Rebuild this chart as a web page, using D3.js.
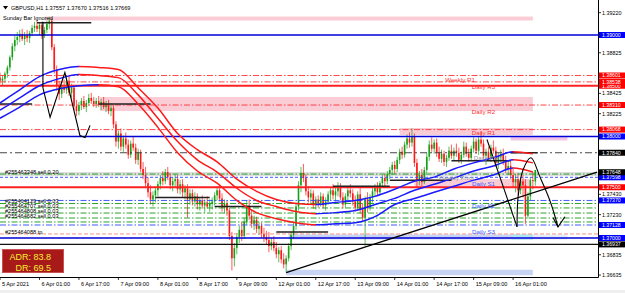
<!DOCTYPE html>
<html>
<head>
<meta charset="utf-8">
<script src="https://cdn.jsdelivr.net/npm/d3@7"></script>
<style>
  body { margin: 0; background: #fff; }
  svg { display: block; }
  text { font-family: "Liberation Sans", Arial, sans-serif; }
</style>
</head>
<body>
<div id="chart"></div>
<script>
// ---- GBPUSD H1, 5 Apr 09:00 .. 16 Apr 10:00 (bar index 0..217) ----
const opens = [
  1.3858,1.3855,1.3857,1.3862,1.3868,1.3878,1.3889,1.3895,1.3898,1.3901,1.3896,1.3900,1.3897,1.3902,1.3907,
  1.3909,1.3906,1.3910,1.3899,1.3905,1.3911,1.3914,1.3888,1.3866,1.3850,1.3842,1.3849,1.3846,1.3855,1.3843,1.3848,1.3830,1.3825,1.3831,1.3835,1.3829,1.3833,1.3838,1.3835,
  1.3832,1.3835,1.3831,1.3834,1.3829,1.3832,1.3825,1.3828,1.3812,1.3795,1.3803,1.3790,1.3798,1.3792,1.3782,1.3793,1.3789,1.3777,1.3784,1.3768,1.3762,1.3754,1.3745,1.3738,
  1.3742,1.3747,1.3753,1.3759,1.3756,1.3765,1.3760,1.3752,1.3756,1.3758,1.3748,1.3753,1.3745,1.3749,1.3738,1.3744,1.3736,1.3741,1.3733,1.3737,1.3732,1.3735,1.3731,1.3734,
  1.3736,1.3742,1.3747,1.3739,1.3730,1.3734,1.3727,1.3702,1.3680,1.3690,1.3701,1.3708,1.3702,1.3716,1.3732,1.3722,1.3714,1.3718,1.3709,1.3712,1.3704,1.3701,1.3698,1.3692,
  1.3696,1.3690,1.3684,1.3688,1.3679,1.3674,1.3680,1.3692,1.3703,1.3712,1.3731,1.3752,1.3764,1.3759,1.3746,1.3740,1.3744,1.3733,1.3738,1.3734,1.3741,1.3732,1.3736,1.3743,
  1.3747,1.3742,1.3746,1.3751,1.3740,1.3733,1.3741,1.3747,1.3744,1.3736,1.3730,1.3743,1.3728,1.3720,1.3738,1.3730,1.3740,1.3746,1.3750,1.3745,1.3754,1.3759,1.3756,1.3763,
  1.3767,1.3772,1.3768,1.3777,1.3785,1.3782,1.3792,1.3798,1.3794,1.3800,1.3774,1.3756,1.3762,1.3755,1.3767,1.3780,1.3792,1.3788,1.3794,1.3784,1.3778,1.3783,1.3775,1.3779,
  1.3786,1.3781,1.3786,1.3784,1.3777,1.3782,1.3790,1.3783,1.3779,1.3788,1.3795,1.3786,1.3797,1.3793,1.3781,1.3785,1.3779,1.3789,1.3786,1.3774,1.3780,1.3783,1.3776,1.3768,
  1.3771,1.3762,1.3755,1.3758,1.3747,1.3756,1.3752,1.3722,1.3741,1.3757,1.37557
];
const highs = [
  1.3863,1.3860,1.3864,1.3870,1.3880,1.3892,1.3899,1.3903,1.3905,1.3906,1.3903,1.3905,1.3904,1.3910,1.3913,
  1.3914,1.3912,1.3913,1.3908,1.3914,1.3918,1.3917,1.3891,1.3870,1.3855,1.3852,1.3856,1.3858,1.3860,1.3852,1.3850,1.3836,1.3834,1.3838,1.3840,1.3836,1.3842,1.3843,1.3839,
  1.3838,1.3840,1.3837,1.3839,1.3835,1.3836,1.3833,1.3831,1.3815,1.3806,1.3808,1.3801,1.3804,1.3797,1.3796,1.3800,1.3793,1.3788,1.3787,1.3775,1.3770,1.3760,1.3752,1.3746,
  1.3750,1.3756,1.3762,1.3766,1.3768,1.3770,1.3764,1.3760,1.3763,1.3762,1.3757,1.3758,1.3752,1.3753,1.3748,1.3748,1.3745,1.3744,1.3740,1.3742,1.3738,1.3741,1.3738,1.3740,
  1.3745,1.3751,1.3752,1.3744,1.3738,1.3737,1.3730,1.3706,1.3695,1.3705,1.3712,1.3716,1.3720,1.3737,1.3738,1.3727,1.3722,1.3721,1.3716,1.3715,1.3710,1.3707,1.3706,1.3700,
  1.3702,1.3696,1.3691,1.3692,1.3685,1.3683,1.3695,1.3706,1.3715,1.3735,1.3756,1.3770,1.3773,1.3763,1.3751,1.3748,1.3747,1.3741,1.3742,1.3745,1.3744,1.3740,1.3746,1.3750,
  1.3753,1.3750,1.3755,1.3754,1.3745,1.3744,1.3750,1.3753,1.3748,1.3742,1.3746,1.3749,1.3734,1.3741,1.3745,1.3743,1.3749,1.3753,1.3755,1.3756,1.3762,1.3763,1.3766,1.3770,
  1.3775,1.3776,1.3780,1.3788,1.3790,1.3795,1.3802,1.3804,1.3808,1.3803,1.3778,1.3766,1.3768,1.3770,1.3784,1.3796,1.3799,1.3797,1.3798,1.3790,1.3787,1.3786,1.3782,1.3790,
  1.3792,1.3789,1.3793,1.3789,1.3785,1.3795,1.3794,1.3788,1.3791,1.3799,1.3798,1.3800,1.3805,1.3797,1.3788,1.3790,1.3792,1.3796,1.3790,1.3784,1.3787,1.3788,1.3781,1.3776,
  1.3776,1.3768,1.3763,1.3764,1.3760,1.3762,1.3758,1.3745,1.3760,1.3765,1.37670
];
const lows = [
  1.3852,1.3850,1.3853,1.3858,1.3865,1.3875,1.3884,1.3890,1.3893,1.3894,1.3890,1.3893,1.3892,1.3899,1.3903,
  1.3903,1.3900,1.3896,1.3897,1.3902,1.3906,1.3885,1.3862,1.3845,1.3836,1.3838,1.3843,1.3842,1.3840,1.3838,1.3826,1.3820,1.3821,1.3826,1.3827,1.3824,1.3830,1.3832,1.3829,
  1.3828,1.3829,1.3826,1.3827,1.3824,1.3822,1.3820,1.3808,1.3790,1.3788,1.3786,1.3785,1.3788,1.3778,1.3779,1.3786,1.3773,1.3772,1.3765,1.3758,1.3750,1.3740,1.3733,1.3731,
  1.3735,1.3741,1.3748,1.3752,1.3753,1.3757,1.3748,1.3746,1.3750,1.3744,1.3743,1.3740,1.3738,1.3720,1.3733,1.3732,1.3731,1.3728,1.3727,1.3729,1.3725,1.3729,1.3726,1.3728,
  1.3732,1.3737,1.3736,1.3726,1.3724,1.3722,1.3698,1.3668,1.3672,1.3684,1.3695,1.3697,1.3699,1.3713,1.3718,1.3710,1.3708,1.3705,1.3703,1.3700,1.3696,1.3694,1.3686,1.3688,
  1.3687,1.3680,1.3676,1.3675,1.3670,1.3666,1.3677,1.3688,1.3699,1.3708,1.3727,1.3745,1.3755,1.3742,1.3735,1.3733,1.3729,1.3728,1.3730,1.3731,1.3729,1.3727,1.3733,1.3737,
  1.3738,1.3736,1.3741,1.3737,1.3729,1.3730,1.3737,1.3740,1.3732,1.3726,1.3727,1.3724,1.3716,1.3692,1.3725,1.3727,1.3735,1.3741,1.3742,1.3743,1.3750,1.3751,1.3753,1.3758,
  1.3762,1.3763,1.3765,1.3773,1.3778,1.3779,1.3788,1.3789,1.3790,1.3770,1.3750,1.3752,1.3751,1.3753,1.3764,1.3776,1.3785,1.3783,1.3780,1.3775,1.3774,1.3771,1.3770,1.3776,
  1.3778,1.3776,1.3780,1.3774,1.3773,1.3779,1.3780,1.3775,1.3776,1.3784,1.3783,1.3782,1.3790,1.3778,1.3772,1.3776,1.3775,1.3783,1.3770,1.3768,1.3775,1.3772,1.3764,1.3762,
  1.3758,1.3750,1.3745,1.3742,1.3743,1.3740,1.3714,1.3719,1.3737,1.3748,1.37516
];
const closes = [
  1.3855,1.3857,1.3862,1.3868,1.3878,1.3889,1.3895,1.3898,1.3901,1.3896,1.3900,1.3897,1.3902,1.3907,1.3909,
  1.3906,1.3910,1.3899,1.3905,1.3911,1.3914,1.3888,1.3866,1.3850,1.3842,1.3849,1.3846,1.3855,1.3843,1.3848,1.3830,1.3825,1.3831,1.3835,1.3829,1.3833,1.3838,1.3835,1.3832,
  1.3835,1.3831,1.3834,1.3829,1.3832,1.3825,1.3828,1.3812,1.3795,1.3803,1.3790,1.3798,1.3792,1.3782,1.3793,1.3789,1.3777,1.3784,1.3768,1.3762,1.3754,1.3745,1.3738,1.3742,
  1.3747,1.3753,1.3759,1.3756,1.3765,1.3760,1.3752,1.3756,1.3758,1.3748,1.3753,1.3745,1.3749,1.3738,1.3744,1.3736,1.3741,1.3733,1.3737,1.3732,1.3735,1.3731,1.3734,1.3736,
  1.3742,1.3747,1.3739,1.3730,1.3734,1.3727,1.3702,1.3680,1.3690,1.3701,1.3708,1.3702,1.3716,1.3732,1.3722,1.3714,1.3718,1.3709,1.3712,1.3704,1.3701,1.3698,1.3692,1.3696,
  1.3690,1.3684,1.3688,1.3679,1.3674,1.3680,1.3692,1.3703,1.3712,1.3731,1.3752,1.3764,1.3759,1.3746,1.3740,1.3744,1.3733,1.3738,1.3734,1.3741,1.3732,1.3736,1.3743,1.3747,
  1.3742,1.3746,1.3751,1.3740,1.3733,1.3741,1.3747,1.3744,1.3736,1.3730,1.3743,1.3728,1.3720,1.3738,1.3730,1.3740,1.3746,1.3750,1.3745,1.3754,1.3759,1.3756,1.3763,1.3767,
  1.3772,1.3768,1.3777,1.3785,1.3782,1.3792,1.3798,1.3794,1.3800,1.3774,1.3756,1.3762,1.3755,1.3767,1.3780,1.3792,1.3788,1.3794,1.3784,1.3778,1.3783,1.3775,1.3779,1.3786,
  1.3781,1.3786,1.3784,1.3777,1.3782,1.3790,1.3783,1.3779,1.3788,1.3795,1.3786,1.3797,1.3793,1.3781,1.3785,1.3779,1.3789,1.3786,1.3774,1.3780,1.3783,1.3776,1.3768,1.3771,
  1.3762,1.3755,1.3758,1.3747,1.3756,1.3752,1.3722,1.3741,1.3757,1.3756,1.37669
];

// moving averages, read every 8 bars (bar 0, 8, 16 ... 216)
const maStep = 8;
const maUpper  = [1.3833,1.3846,1.3859,1.3866,1.3869,1.3868,1.3866,1.3848,1.3828,1.3803,1.3787,1.3775,1.3758,1.3746,1.3738,1.3734,1.3733,1.3735,1.3737,1.3741,1.3748,1.3756,1.3760,1.3768,1.3774,1.3779,1.3785,1.3783];
const maMiddle = [1.3826,1.3838,1.3850,1.3857,1.3861,1.3860,1.3858,1.3841,1.3818,1.3795,1.3777,1.3765,1.3749,1.3737,1.3731,1.3726,1.3724,1.3725,1.3727,1.3733,1.3739,1.3747,1.3753,1.3759,1.3766,1.3771,1.3777,1.3774];
const maLower  = [1.3818,1.3829,1.3841,1.3847,1.3850,1.3851,1.3849,1.3832,1.3809,1.3784,1.3766,1.3754,1.3737,1.3725,1.3719,1.3715,1.3713,1.3714,1.3715,1.3721,1.3733,1.3739,1.3745,1.3751,1.3757,1.3762,1.3769,1.3765];

// time axis
const timeTickBars = [0,16,32,48,64,80,96,112,128,144,160,176,192,208];
const timeTickLabels = ["5 Apr 2021","6 Apr 01:00","6 Apr 17:00","7 Apr 09:00","8 Apr 01:00","8 Apr 17:00","9 Apr 09:00",
  "12 Apr 01:00","12 Apr 17:00","13 Apr 09:00","14 Apr 01:00","14 Apr 17:00","15 Apr 09:00","16 Apr 01:00"];
// price axis (ticks not hidden by the price tags)
const priceTicks = [1.39220,1.38825,1.38425,1.38225,1.37430,1.37230,1.36835,1.36635];

// horizontal levels
const blueSolidLevels = [1.39000, 1.38000, 1.37000];
const redSolidLevels = [1.38500, 1.37500];
const redDashLevels = [1.38601, 1.38538, 1.38310, 1.38068];
const blueDashLevels = [1.37598, 1.37370, 1.37128];
const blackDashLevels = [1.37840];
const blackSolidLevels = [1.36937];
const tpLevels = [1.37040];

// orders
const orderTexts = ["#255463348 sell 0.20","#255464129 sell 0.03","#255464707 sell 0.03","#255464808 sell 0.03","#255464682 sell 0.03",""];
const orderPrices = [1.37630, 1.37340, 1.37296, 1.37246, 1.37197, 1.37158];
const tpText = "#255464088 tp";

// zones [startBar, endBar, top price, bottom price]
const pinkZones = [[18,216,1.39182,1.39143],[40.5,216,1.38389,1.38251],[162,216,1.38084,1.38015],[168,215,1.37581,1.37493]];
const lavenderZones = [[207,230,1.37995,1.37961]];
const greyZones = [[-2,243,1.37650,1.37611]];
const blueZones = [[117,216,1.37035,1.36985],[116,216,1.36687,1.36633]];
const cyanZones = [[207.5,216,1.37035,1.36985]];
const paleZones = [[216,230,1.37035,1.36985]];

// daily segments [startBar, endBar, price]
const daySegments = [[0,13,1.3832],[15,37,1.3912],[40,61,1.3832],[63,85,1.3740],[87,106,1.3731],[112,133,1.3706],
  [135,158,1.3751],[158,183,1.3757],[183,207,1.3776],[207,218,1.3784]];

// pivot labels [text, bar, price]
const redPivotLabels = [["Weekly R1",186.5,1.38557],["Daily R3",196,1.38488],["Daily R2",196,1.38247],["Daily R1",196,1.38034]];
const greyPivotLabels = [["Daily Pivot",198,1.37788],["Weekly Pivot",185,1.37591]];
const bluePivotLabels = [["Daily S1",196,1.37532],["Daily S2",196,1.37315],["Daily S3",196,1.37059]];

// drawings [bar, price]
const trendLine = [[116,1.3666],[242,1.37648]];
const scribbleLeft = [[17.4,1.3913],[17.4,1.3848],[20.3,1.3819],[26.3,1.3863],[32.4,1.3801],[34.5,1.3799],[36.5,1.3811]];
const scribbleDown = [[197.4,1.3797],[209.6,1.3711]];
const scribbleArc = [[209.6,1.3711],[210,1.3740],[212,1.3767],[215.2,1.3779],[218.9,1.3760],[222.9,1.3737],[226.2,1.3711]];
const arrowHead = [[224.2,1.3720],[226.2,1.3711],[229,1.3721]];

const adrValue = "83.8";
const drValue = "69.5";

// ---------------------------------------------------------------
const width = 625, height = 293;
const plotW = 598, plotH = 277;
const bull = '#16a016', bear = '#ff1616';

const svg = d3.select('#chart').append('svg')
  .attr('width', width).attr('height', height);
svg.append('rect').attr('width', width).attr('height', height).attr('fill', '#fff');
svg.append('rect').attr('x', 0).attr('y', 290).attr('width', width).attr('height', 3).attr('fill', '#eeeeee');

const defs = svg.append('defs');
defs.append('clipPath').attr('id', 'plot-clip')
  .append('rect').attr('width', plotW).attr('height', plotH);

const xScale = d3.scaleLinear().domain([0, 242]).range([0, 597]);
const yScale = d3.scaleLinear().domain([1.39, 1.37]).range([35, 238]);

const plot = svg.append('g').attr('clip-path', 'url(#plot-clip)');

// zones
const drawZones = (zones, fill) => {
  plot.append('g').selectAll('rect').data(zones).join('rect')
    .attr('x', d => xScale(d[0]))
    .attr('width', d => xScale(d[1]) - xScale(d[0]))
    .attr('y', d => yScale(d[2]))
    .attr('height', d => yScale(d[3]) - yScale(d[2]))
    .attr('fill', fill);
};
drawZones(greyZones, '#dedede');
drawZones(pinkZones, '#f9ccd6');
drawZones(lavenderZones, '#f2c4ea');
drawZones(blueZones, '#c7d4f3');
drawZones(cyanZones, '#aee6f2');
drawZones(paleZones, '#e4ecfa');

// horizontal levels
const drawLevels = (levels, color, w, dash) => {
  plot.append('g').selectAll('line').data(levels).join('line')
    .attr('x1', 0).attr('x2', plotW)
    .attr('y1', d => yScale(d)).attr('y2', d => yScale(d))
    .attr('stroke', color).attr('stroke-width', w)
    .attr('stroke-dasharray', dash);
};

// candles
const bars = closes.map((c, i) => ({ i, o: opens[i], h: highs[i], l: lows[i], c }));
const candleG = plot.append('g');
candleG.selectAll('line').data(bars).join('line')
  .attr('x1', d => xScale(d.i)).attr('x2', d => xScale(d.i))
  .attr('y1', d => yScale(d.h)).attr('y2', d => yScale(d.l))
  .attr('stroke', d => d.c >= d.o ? bull : bear)
  .attr('stroke-width', 0.7);
candleG.selectAll('rect').data(bars).join('rect')
  .attr('x', d => xScale(d.i) - 0.8)
  .attr('width', 1.6)
  .attr('y', d => yScale(Math.max(d.o, d.c)))
  .attr('height', d => Math.max(0.8, Math.abs(yScale(d.o) - yScale(d.c))))
  .attr('fill', d => d.c >= d.o ? bull : bear);

drawLevels(orderPrices, '#139a13', 0.9, '6,2,1.5,2');
drawLevels(redDashLevels, '#ff3333', 0.9, '6,2,1.5,2');
drawLevels(blueDashLevels.slice(1), '#2848ff', 0.9, '6,2,1.5,2');
drawLevels(blueDashLevels.slice(0, 1), '#2848ff', 0.9, '3,2');
drawLevels(blackDashLevels, '#333', 0.9, '7,3,2,3');
drawLevels(tpLevels, '#f08a78', 0.9, '4,2');
drawLevels(redSolidLevels, '#ff2020', 2, null);
drawLevels(blueSolidLevels, '#0000d8', 1.4, null);
drawLevels(blackSolidLevels, '#111', 1.4, null);

// daily segments
plot.append('g').selectAll('line').data(daySegments).join('line')
  .attr('x1', d => xScale(d[0])).attr('x2', d => xScale(d[1]))
  .attr('y1', d => yScale(d[2])).attr('y2', d => yScale(d[2]))
  .attr('stroke', '#222').attr('stroke-width', 1.5);

// moving averages, red when falling, blue when rising
const maLine = d3.line()
  .x(d => xScale(d[0])).y(d => yScale(d[1]))
  .curve(d3.curveMonotoneX);
[maUpper, maMiddle, maLower].forEach((vals, n) => {
  const pts = vals.map((p, k) => [k * maStep, p]);
  const upClip = defs.append('clipPath').attr('id', `ma-up-${n}`);
  const dnClip = defs.append('clipPath').attr('id', `ma-dn-${n}`);
  pts.slice(0, -1).forEach((p, k) => {
    const falling = pts[k + 1][1] <= p[1];
    (falling ? dnClip : upClip).append('rect')
      .attr('x', xScale(p[0]) - 0.3)
      .attr('width', xScale(pts[k + 1][0]) - xScale(p[0]) + 0.6)
      .attr('y', 0).attr('height', plotH);
  });
  plot.append('path').datum(pts)
    .attr('d', maLine).attr('fill', 'none')
    .attr('stroke', '#1a1aff').attr('stroke-width', 1.5)
    .attr('clip-path', `url(#ma-up-${n})`);
  plot.append('path').datum(pts)
    .attr('d', maLine).attr('fill', 'none')
    .attr('stroke', '#ff1a1a').attr('stroke-width', 1.5)
    .attr('clip-path', `url(#ma-dn-${n})`);
});

// trend line & hand drawings
const straight = d3.line().x(d => xScale(d[0])).y(d => yScale(d[1]));
const smooth = d3.line().x(d => xScale(d[0])).y(d => yScale(d[1])).curve(d3.curveCatmullRom);
plot.append('path').datum(trendLine).attr('d', straight)
  .attr('fill', 'none').attr('stroke', '#000').attr('stroke-width', 1.3);
[scribbleLeft, scribbleDown, arrowHead].forEach(pts => {
  plot.append('path').datum(pts).attr('d', straight)
    .attr('fill', 'none').attr('stroke', '#000').attr('stroke-width', 1.1);
});
plot.append('path').datum(scribbleArc).attr('d', smooth)
  .attr('fill', 'none').attr('stroke', '#000').attr('stroke-width', 1.1);

// pivot labels
const drawPivotLabels = (labels, color) => {
  plot.append('g').selectAll('text').data(labels).join('text')
    .attr('x', d => xScale(d[1])).attr('y', d => yScale(d[2]))
    .attr('dy', '0.35em').attr('text-anchor', 'middle')
    .attr('font-size', 6.2).attr('fill', color)
    .text(d => d[0]);
};
drawPivotLabels(redPivotLabels, '#ff3030');
drawPivotLabels(greyPivotLabels, '#9a9a9a');
drawPivotLabels(bluePivotLabels, '#3c5cff');

// order texts
plot.append('g').selectAll('text').data(orderPrices.filter((p, k) => orderTexts[k]))
  .join('text')
  .attr('x', 5).attr('y', d => yScale(d) - 0.3)
  .attr('font-size', 5.6).attr('fill', '#000')
  .text((d, k) => orderTexts[k]);
plot.append('text').attr('x', 5).attr('y', yScale(tpLevels[0]) - 0.3)
  .attr('font-size', 5.6).attr('fill', '#000').text(tpText);

// header texts
svg.append('path').attr('d', 'M3,6 L8,6 L5.5,9.5 Z').attr('fill', '#000');
svg.append('text').attr('x', 11).attr('y', 10).attr('font-size', 5.6).attr('fill', '#000')
  .text(`GBPUSD,H1  ${opens[opens.length - 1].toFixed(5)} ${highs[highs.length - 1].toFixed(5)} ${lows[lows.length - 1].toFixed(5)} ${closes[closes.length - 1].toFixed(5)}`);
svg.append('text').attr('x', 3).attr('y', 19.5).attr('font-size', 5.6).attr('fill', '#000')
  .text('Sunday Bar Ignored');

// ADR box
const adrG = svg.append('g');
adrG.append('rect').attr('x', 2.5).attr('y', 249.5).attr('width', 61).attr('height', 23)
  .attr('fill', '#a81a1a').attr('stroke', '#c85050').attr('stroke-width', 1);
adrG.append('text').attr('x', 51).attr('y', 260).attr('text-anchor', 'end')
  .attr('font-size', 9).attr('fill', '#f4f030').text(`ADR: ${adrValue}`);
adrG.append('text').attr('x', 51).attr('y', 270.5).attr('text-anchor', 'end')
  .attr('font-size', 9).attr('fill', '#f4f030').text(`DR: ${drValue}`);

// frame
svg.append('line').attr('x1', plotW + 0.5).attr('x2', plotW + 0.5).attr('y1', 0).attr('y2', plotH + 0.5)
  .attr('stroke', '#000').attr('stroke-width', 1);
svg.append('line').attr('x1', 0).attr('x2', plotW + 0.5).attr('y1', plotH + 0.5).attr('y2', plotH + 0.5)
  .attr('stroke', '#000').attr('stroke-width', 1);

// time axis
const tAxis = svg.append('g');
tAxis.selectAll('line').data(timeTickBars).join('line')
  .attr('x1', d => xScale(d)).attr('x2', d => xScale(d))
  .attr('y1', plotH).attr('y2', plotH + 3)
  .attr('stroke', '#000').attr('stroke-width', 0.8);
tAxis.selectAll('text').data(timeTickBars).join('text')
  .attr('x', d => xScale(d) + 2).attr('y', 286)
  .attr('font-size', 5.6).attr('fill', '#000')
  .text((d, k) => timeTickLabels[k]);

// price axis
const pAxis = svg.append('g');
pAxis.selectAll('line').data(priceTicks).join('line')
  .attr('x1', plotW).attr('x2', plotW + 3)
  .attr('y1', d => yScale(d)).attr('y2', d => yScale(d))
  .attr('stroke', '#000').attr('stroke-width', 0.8);
pAxis.selectAll('text').data(priceTicks).join('text')
  .attr('x', plotW + 4).attr('y', d => yScale(d)).attr('dy', '0.35em')
  .attr('font-size', 5.4).attr('fill', '#000')
  .text(d => d.toFixed(5));

// price tags on the right
const tags = [
  ...blueSolidLevels.slice(0, 2).map(p => [p, '#0000ff']),
  [redSolidLevels[0], '#ff0000'],
  [redDashLevels[1], '#ff0000'],
  [redDashLevels[0], '#ff0000'],
  [redDashLevels[2], '#ff0000'],
  [redDashLevels[3], '#ff0000'],
  [blackDashLevels[0], '#000'],
  [blueDashLevels[0], '#0000ff'],
  [trendLine[1][1], '#000'],
  [redSolidLevels[1], '#ff0000'],
  [blueDashLevels[1], '#0000ff'],
  [blueDashLevels[2], '#0000ff'],
  [blackSolidLevels[0], '#000'],
  [blueSolidLevels[2], '#0000ff']
];
const tagG = svg.append('g');
tags.forEach(([p, fill]) => {
  const y = yScale(p);
  tagG.append('rect').attr('x', plotW + 1).attr('y', y - 3)
    .attr('width', 26).attr('height', 6).attr('fill', fill);
  tagG.append('text').attr('x', plotW + 4).attr('y', y).attr('dy', '0.35em')
    .attr('font-size', 5.2).attr('fill', '#fff').text(p.toFixed(5));
});
</script>
</body>
</html>
